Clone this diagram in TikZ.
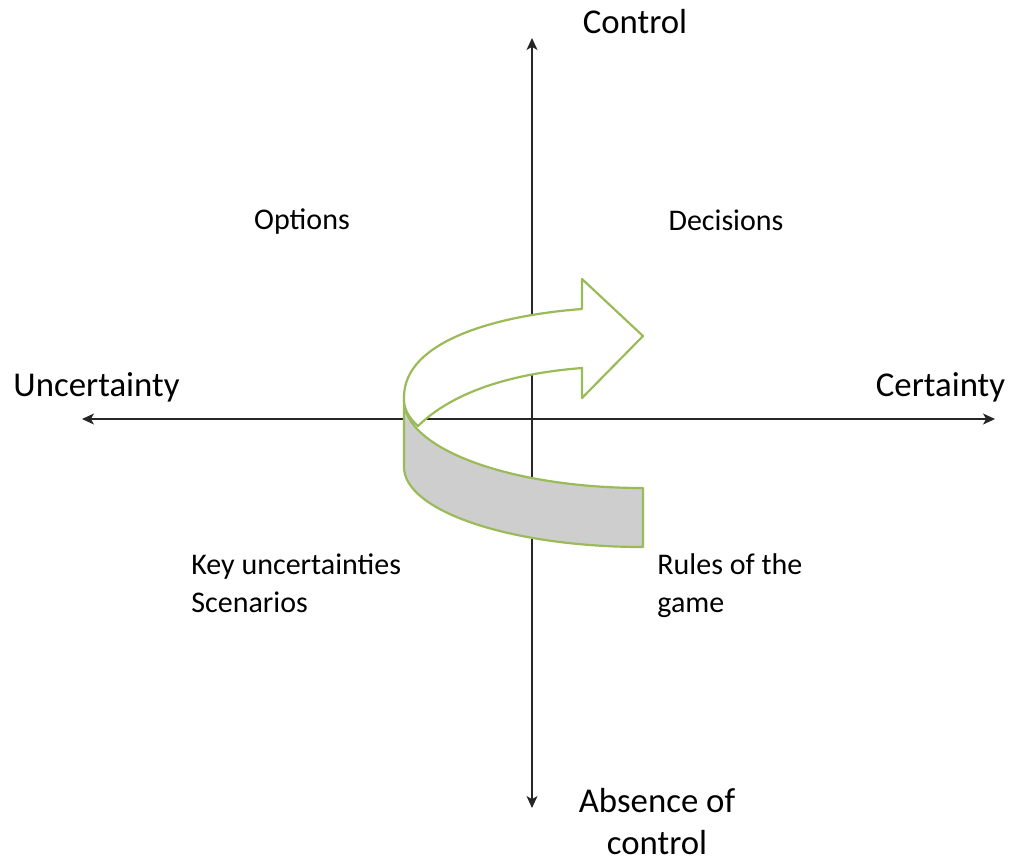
\documentclass[tikz,border=0pt]{standalone}
\usepackage{fontspec}
\setmainfont{Carlito}
\usetikzlibrary{arrows.meta}
\definecolor{olive}{HTML}{9BBB59}
\definecolor{band}{HTML}{CECECE}
\definecolor{axis}{HTML}{262626}
\begin{document}
\begin{tikzpicture}[x=0.5pt,y=-0.5pt,
  axisline/.style={draw=axis,line width=0.6pt,-{Stealth[length=6pt,width=5.5pt,inset=1.6pt]}},
  biglabel/.style={font=\fontsize{17.4}{21}\selectfont,inner sep=0pt,align=center},
  smalllabel/.style={font=\fontsize{15}{19}\selectfont,inner sep=0pt,align=left},
  shapeline/.style={draw=olive,line width=1.1pt,line join=round}]
\useasboundingbox (0,0) rectangle (1011,859);
% axes
\coordinate (ctr) at (532,419);
\coordinate (top) at (532,38);
\coordinate (bot) at (532,808);
\coordinate (lft) at (82,419);
\coordinate (rgt) at (995,419);
\draw[axisline] (ctr) -- (top);
\draw[axisline] (ctr) -- (bot);
\draw[axisline] (ctr) -- (lft);
\draw[axisline] (ctr) -- (rgt);
% grey band
\path[shapeline,fill=band] (404,400) .. controls (404,449) and (511,488) .. (643,488)
  -- (643,547) .. controls (511,547) and (404,511) .. (404,467) -- cycle;
% white arrow
\path[shapeline,fill=white] (404,400) -- (404,397) .. controls (404,340) and (500,315) .. (582,309)
  -- (582,279) -- (643,336) -- (582,398) -- (582,368)
  .. controls (530,372) and (460,385) .. (418,426)
  .. controls (409,418) and (404,409) .. (404,400) -- cycle;
% labels
\node[biglabel] (control) at (635,22) {Control};
\node[biglabel] (uncert) at (96.5,387) {Uncertainty};
\node[biglabel] (cert) at (940.5,387) {Certainty};
\node[biglabel] (absence) at (657,822) {Absence of\\control};
\node[smalllabel] (options) at (302,222) {Options};
\node[smalllabel] (decisions) at (726,220) {Decisions};
\node[smalllabel,anchor=west] (keyunc) at (191,583) {Key uncertainties\\Scenarios};
\node[smalllabel,anchor=west] (rules) at (657,586) {Rules of the\\game};
\end{tikzpicture}
\end{document}
